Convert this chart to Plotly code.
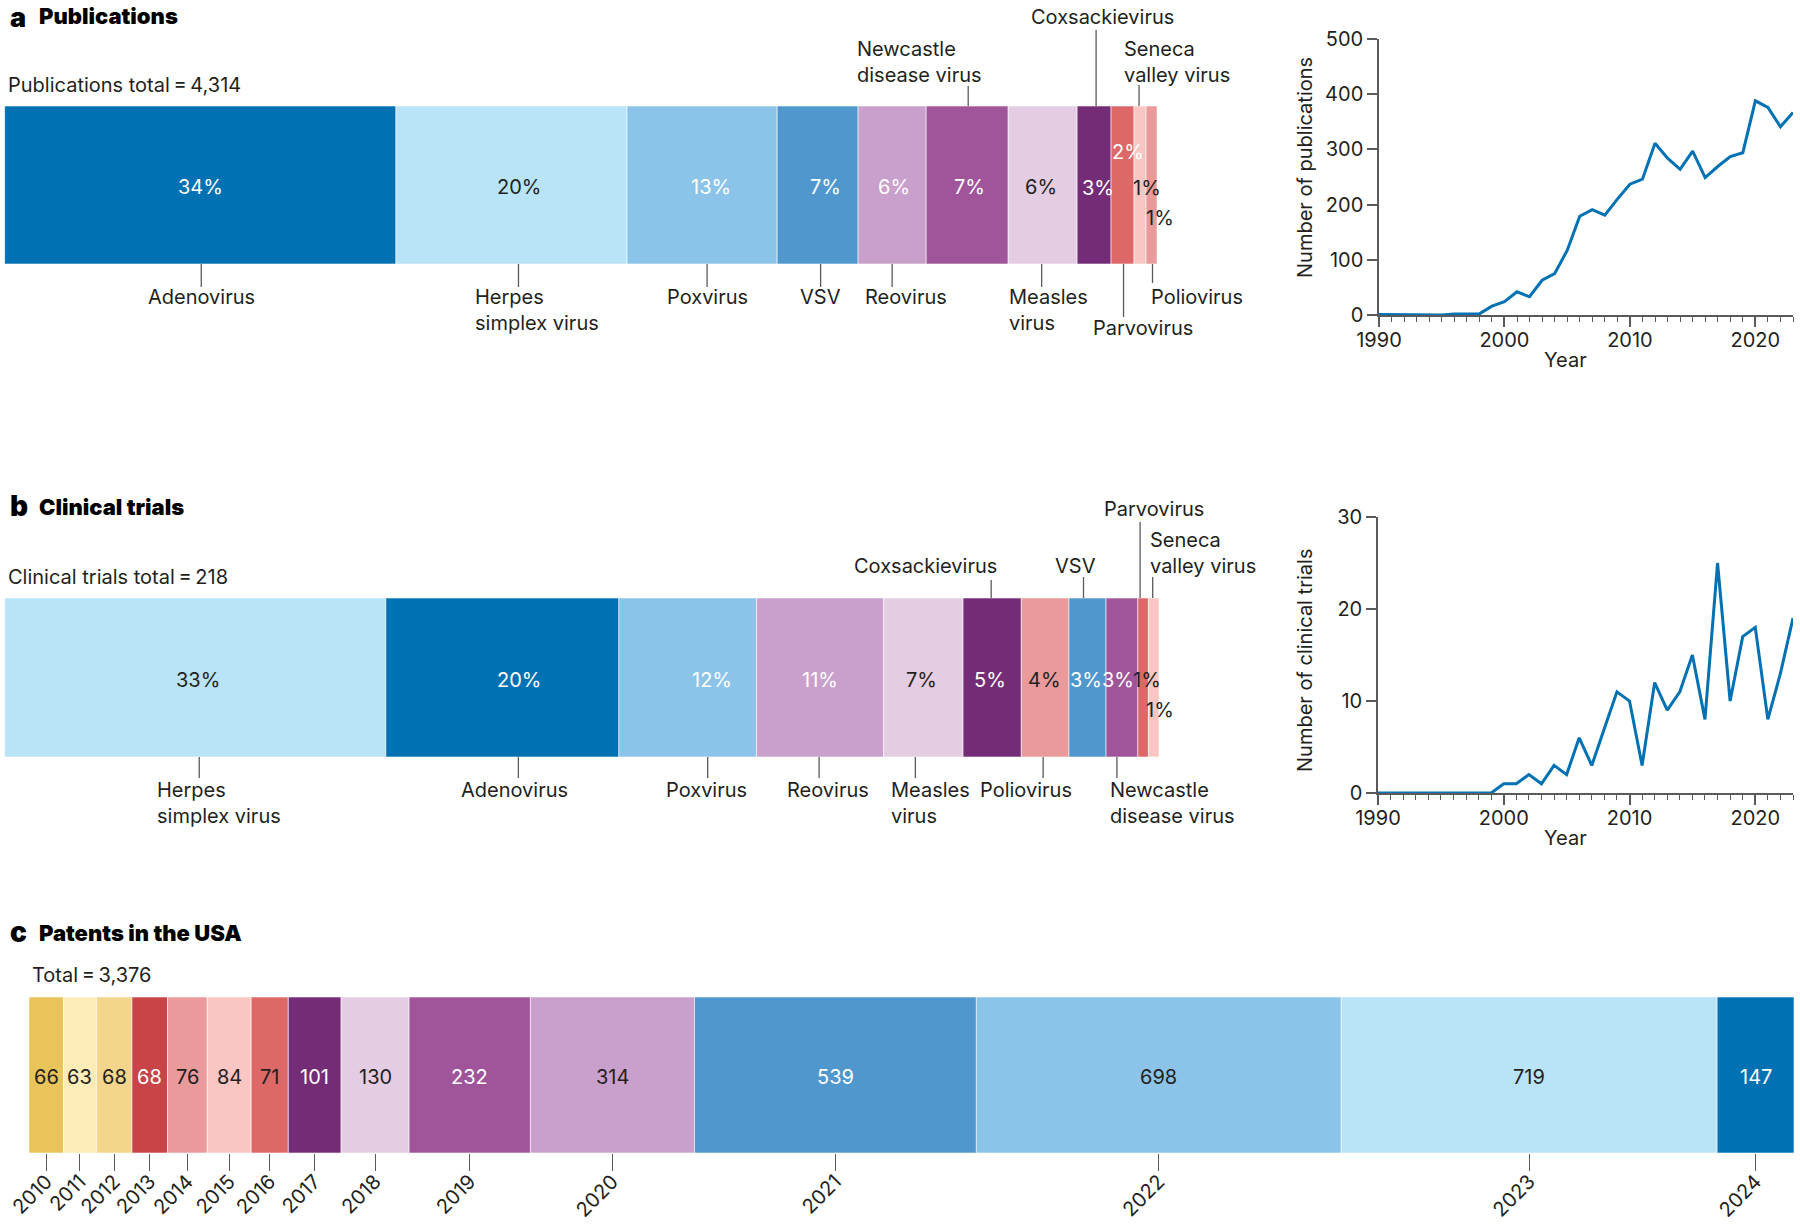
import numpy as np
import plotly.graph_objects as go

W, H = 1800, 1228

# ---------------- data ----------------
pub_viruses = ["Adenovirus", "Herpes simplex virus", "Poxvirus", "VSV", "Reovirus",
               "Newcastle disease virus", "Measles virus", "Coxsackievirus",
               "Parvovirus", "Seneca valley virus", "Poliovirus"]
pub_counts = [1465, 865, 562, 303, 255, 307, 258, 127, 86, 45, 41]   # total 4,314

trial_viruses = ["Herpes simplex virus", "Adenovirus", "Poxvirus", "Reovirus", "Measles virus",
                 "Coxsackievirus", "Poliovirus", "VSV", "Newcastle disease virus",
                 "Parvovirus", "Seneca valley virus"]
trial_counts = [72, 44, 26, 24, 15, 11, 9, 7, 6, 2, 2]               # total 218

patent_years = ["2010", "2011", "2012", "2013", "2014", "2015", "2016", "2017",
                "2018", "2019", "2020", "2021", "2022", "2023", "2024"]
patent_counts = [66, 63, 68, 68, 76, 84, 71, 101, 130, 232, 314, 539, 698, 719, 147]

years = list(range(1990, 2024))
pubs_per_year = [1, 1, 0, 0, 1, 0, 2, 2, 2, 16, 24, 42, 33, 63, 75, 117, 179, 191, 181, 210,
                 237, 246, 311, 284, 264, 297, 249, 269, 287, 294, 388, 376, 341, 367]
trials_per_year = [0, 0, 0, 0, 0, 0, 0, 0, 0, 0, 1, 1, 2, 1, 3, 2, 6, 3, 7, 11,
                   10, 3, 12, 9, 11, 15, 8, 25, 10, 17, 18, 8, 13, 19]

# ---------------- styles ----------------
FONT = "Inter, 'Noto Sans', sans-serif"
DARK = "#231f20"
TICKC = "#5a5a5a"
LINE_BLUE = "#0071b2"
FS = 20

virus_colors = {
    "Adenovirus": "#0071b2", "Herpes simplex virus": "#b9e4f8", "Poxvirus": "#8bc4e8",
    "VSV": "#4f97cc", "Reovirus": "#c9a0cb", "Newcastle disease virus": "#a0559b",
    "Measles virus": "#e4cde3", "Coxsackievirus": "#742c77", "Parvovirus": "#dc6967",
    "Seneca valley virus": "#f9c6c3", "Poliovirus": "#ea9a9a",
}
patent_colors = ["#e8c45a", "#feecb8", "#f3d68b", "#c84448", "#ea9a9a", "#f9c6c3", "#dc6967",
                 "#742c77", "#e4cde3", "#a0559b", "#c9a0cb", "#4f97cc", "#8bc4e8", "#b9e4f8",
                 "#0071b2"]
patent_text_white = [False, False, False, True, False, False, False, True, False, True,
                     False, True, False, False, True]

label_text = {
    "Herpes simplex virus": "Herpes<br>simplex virus",
    "Newcastle disease virus": "Newcastle<br>disease virus",
    "Measles virus": "Measles<br>virus",
    "Seneca valley virus": "Seneca<br>valley virus",
}

# per-label placement: (tick dx, side, tick end px, text anchor, text dx, text edge px)
a_label_style = {
    "Adenovirus": (1, "below", 287, "center", 0, 283),
    "Herpes simplex virus": (7, "below", 287, "left", -45, 283),
    "Poxvirus": (5, "below", 287, "center", 0, 283),
    "VSV": (3, "below", 287, "center", 0, 283),
    "Reovirus": (0, "below", 287, "center", 14, 283),
    "Newcastle disease virus": (1, "above", 86, "left", -113, 89),
    "Measles virus": (-1, "below", 287, "left", -35, 283),
    "Coxsackievirus": (2, "above", 30, "center", 6, 31),
    "Parvovirus": (1, "below", 317, "center", 19, 314),
    "Seneca valley virus": (-1, "above", 85, "left", -17, 89),
    "Poliovirus": (1, "below", 283, "left", -4, 283),
}
# percentage label (dx, dy, white?)
a_pct_style = {
    "Adenovirus": (0, -2, True), "Herpes simplex virus": (8, -2, False), "Poxvirus": (9, -2, True),
    "VSV": (8, -2, True), "Reovirus": (2, -2, True), "Newcastle disease virus": (2, -2, True),
    "Measles virus": (-2, -2, False), "Coxsackievirus": (4, -3, True), "Parvovirus": (5, 33, True),
    "Seneca valley virus": (7, -3, False), "Poliovirus": (8, -33, False),
}
b_label_style = {
    "Herpes simplex virus": (4, "below", 778, "left", -44, 776),
    "Adenovirus": (16, "below", 778, "center", -4, 776),
    "Poxvirus": (20, "below", 778, "center", -1, 776),
    "Reovirus": (-1, "below", 778, "center", 9, 776),
    "Measles virus": (-8, "below", 778, "left", -26, 776),
    "Coxsackievirus": (-1, "above", 580, "center", -66, 580),
    "Poliovirus": (-2, "below", 778, "center", -17, 776),
    "VSV": (-4, "above", 577, "center", -8, 580),
    "Newcastle disease virus": (-5, "below", 778, "left", -9, 776),
    "Parvovirus": (-3, "above", 522, "center", 14, 523),
    "Seneca valley virus": (-1, "above", 577, "left", -5, 580),
}
b_pct_style = {
    "Herpes simplex virus": (3, -2, False), "Adenovirus": (17, -2, True), "Poxvirus": (24, -2, True),
    "Reovirus": (0, -2, True), "Measles virus": (-2, -2, False), "Coxsackievirus": (-2, -2, True),
    "Poliovirus": (-1, -2, False), "VSV": (-2, -2, True), "Newcastle disease virus": (-4, -2, True),
    "Parvovirus": (4, -2, False), "Seneca valley virus": (6, -32, False),
}


def yp(px):
    return 1 - px / H


def xp(px):
    return px / W


fig = go.Figure()
annotations = []
shapes = []


def bar_panel(xref, yref, names, counts, lstyle, pstyle, bar_top, bar_bottom):
    counts = np.array(counts, dtype=float)
    starts = np.concatenate([[0], np.cumsum(counts)[:-1]])
    centers = starts + counts / 2
    total = counts.sum()
    fig.add_trace(go.Bar(
        x=counts, base=starts, y=[0] * len(counts), orientation="h", width=1,
        marker=dict(color=[virus_colors[n] for n in names],
                    line=dict(color="rgba(255,255,255,0.7)", width=0.8)),
        xaxis=xref, yaxis=yref, hoverinfo="skip", showlegend=False))
    for n, c, cen in zip(names, counts, centers):
        pdx, pdy, white = pstyle[n]
        annotations.append(dict(
            x=cen, y=0, xref=xref, yref=yref, xshift=pdx, yshift=pdy,
            text=f"{round(100 * c / total)}%", showarrow=False,
            font=dict(size=FS, color="white" if white else DARK)))
        dx, side, tend, anchor, tdx, tedge = lstyle[n]
        y0 = bar_bottom if side == "below" else bar_top
        shapes.append(dict(
            type="line", xref=xref, xsizemode="pixel", xanchor=cen, x0=dx, x1=dx,
            yref="paper", y0=yp(y0), y1=yp(tend), line=dict(color=TICKC, width=1.3)))
        annotations.append(dict(
            x=cen, xref=xref, xshift=dx + tdx, xanchor=anchor,
            y=yp(tedge), yref="paper", yanchor="top" if side == "below" else "bottom",
            text=label_text.get(n, n), align="left", showarrow=False,
            font=dict(size=FS, color=DARK)))


bar_panel("x", "y", pub_viruses, pub_counts, a_label_style, a_pct_style, 106, 264)
bar_panel("x3", "y3", trial_viruses, trial_counts, b_label_style, b_pct_style, 598, 757)

pc = np.array(patent_counts, dtype=float)
pstarts = np.concatenate([[0], np.cumsum(pc)[:-1]])
pcenters = pstarts + pc / 2
fig.add_trace(go.Bar(
    x=pc, base=pstarts, y=[0] * len(pc), orientation="h", width=1,
    marker=dict(color=patent_colors, line=dict(color="rgba(255,255,255,0.7)", width=0.8)),
    xaxis="x5", yaxis="y5", hoverinfo="skip", showlegend=False))
for v, cen, wht in zip(patent_counts, pcenters, patent_text_white):
    annotations.append(dict(x=cen, y=0, xref="x5", yref="y5", yshift=-2, text=str(v),
                            showarrow=False, font=dict(size=FS, color="white" if wht else DARK)))

fig.add_trace(go.Scatter(x=years, y=pubs_per_year, mode="lines", xaxis="x2", yaxis="y2",
                         line=dict(color=LINE_BLUE, width=3), cliponaxis=False,
                         hoverinfo="skip", showlegend=False))
fig.add_trace(go.Scatter(x=years, y=trials_per_year, mode="lines", xaxis="x4", yaxis="y4",
                         line=dict(color=LINE_BLUE, width=3), cliponaxis=False,
                         hoverinfo="skip", showlegend=False))

hidden = dict(visible=False, fixedrange=True, automargin=False)


def line_x(domain, anchor):
    return dict(domain=domain, anchor=anchor, range=[1990, 2023], tickvals=[1990, 2000, 2010, 2020],
                ticks="outside", ticklen=10, tickwidth=1.5, tickcolor=TICKC, automargin=False,
                showline=True, linecolor=TICKC, linewidth=1.5, showgrid=False, zeroline=False,
                tickfont=dict(size=FS, color=DARK), layer="below traces", fixedrange=True,
                ticklabelstandoff=-4,
                minor=dict(tickvals=years, ticks="outside", ticklen=5, tickwidth=1.2,
                           tickcolor=TICKC, showgrid=False))


def line_y(domain, anchor, rng, dtick):
    return dict(domain=domain, anchor=anchor, range=rng, dtick=dtick, automargin=False,
                ticks="outside", ticklen=10, tickwidth=1.5, tickcolor=TICKC, fixedrange=True,
                showline=True, linecolor=TICKC, linewidth=1.5, showgrid=False, zeroline=False,
                tickfont=dict(size=FS, color=DARK), layer="below traces")


fig.update_layout(
    width=W, height=H, margin=dict(l=0, r=0, t=0, b=0, pad=0, autoexpand=False),
    paper_bgcolor="white", plot_bgcolor="rgba(0,0,0,0)",
    font=dict(family=FONT, size=FS, color=DARK),
    barmode="overlay", showlegend=False,
    xaxis=dict(domain=[xp(4.6), xp(1157)], range=[0, sum(pub_counts)], anchor="y", **hidden),
    yaxis=dict(domain=[yp(264), yp(106)], range=[-0.5, 0.5], anchor="x", **hidden),
    xaxis3=dict(domain=[xp(4.6), xp(1159)], range=[0, sum(trial_counts)], anchor="y3", **hidden),
    yaxis3=dict(domain=[yp(757), yp(598)], range=[-0.5, 0.5], anchor="x3", **hidden),
    xaxis5=dict(domain=[xp(29), xp(1794)], range=[0, sum(patent_counts)], anchor="y5",
                tickvals=list(pcenters), ticktext=patent_years, ticks="outside", ticklen=17,
                tickwidth=1.3, tickcolor=TICKC, tickangle=-45, showline=False, showgrid=False,
                zeroline=False, tickfont=dict(size=FS, color=DARK), fixedrange=True,
                automargin=False, ticklabelstandoff=-9),
    yaxis5=dict(domain=[yp(1153), yp(997)], range=[-0.5, 0.5], anchor="x5", **hidden),
    xaxis2=line_x([xp(1379), xp(1793)], "y2"),
    yaxis2=line_y([yp(315), yp(39)], "x2", [0, 500], 100),
    xaxis4=line_x([xp(1378), xp(1793)], "y4"),
    yaxis4=line_y([yp(793), yp(517)], "x4", [0, 30], 10),
)


def text(x, y, s, size=FS, anchor="left", weight="normal", angle=0, yanchor="middle"):
    annotations.append(dict(x=xp(x), y=yp(y), xref="paper", yref="paper", text=s,
                            xanchor=anchor, yanchor=yanchor, showarrow=False, textangle=angle,
                            font=dict(size=size, color="#000000" if weight != "normal" else DARK,
                                      weight=weight)))


text(8, 17, "a", size=27, weight=900)
text(37, 16, "Publications", size=22, weight=900)
text(6, 85, "Publications total\u2009=\u20094,314")
text(8, 506, "b", size=28, weight=900)
text(37, 507, "Clinical trials", size=22, weight=900)
text(6, 577, "Clinical trials total\u2009=\u2009218")
text(8, 932, "c", size=28, weight=900)
text(37, 933, "Patents in the USA", size=22, weight=900)
text(30, 975, "Total\u2009=\u20093,376")

text(1305, 168, "Number of publications", anchor="center", angle=-90)
text(1565, 360, "Year", anchor="center")
text(1305, 661, "Number of clinical trials", anchor="center", angle=-90)
text(1565, 838, "Year", anchor="center")

fig.update_layout(annotations=annotations, shapes=shapes)
fig.write_html("out.html", config={"displayModeBar": False},
               post_script="document.body.style.margin='0px';")
